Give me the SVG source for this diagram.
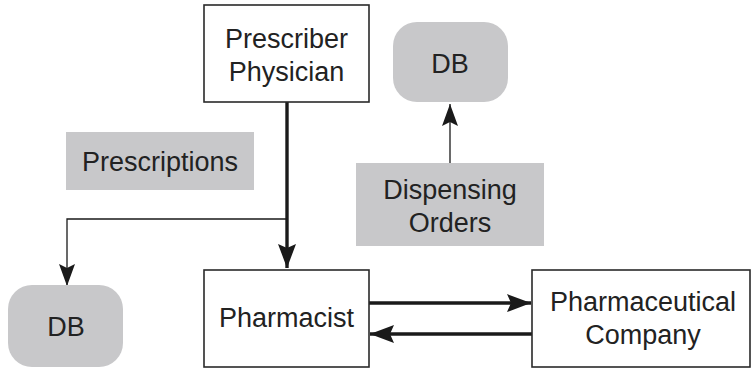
<svg xmlns="http://www.w3.org/2000/svg" width="752" height="368" viewBox="0 0 752 368">
  <style>
    .box { fill: #ffffff; stroke: #2a2a2a; stroke-width: 1.6; }
    .store { fill: #c8c8ca; stroke: none; }
    .label { fill: #c8c8ca; stroke: none; }
    text { font-family: "Liberation Sans", Arial, sans-serif; font-size: 27px; fill: #222222; text-anchor: middle; }
    .thick { fill: none; stroke: #1a1a1a; stroke-width: 3.4; }
    .thin { fill: none; stroke: #1a1a1a; stroke-width: 1.3; }
  </style>
  <defs>
    <marker id="head" markerUnits="userSpaceOnUse" viewBox="0 0 24 18" refX="24" refY="9" markerWidth="24" markerHeight="18" orient="auto">
      <path d="M0,0 L24,9 L0,18 L4,9 z" fill="#1a1a1a"/>
    </marker>
    <marker id="headThin" markerUnits="userSpaceOnUse" viewBox="0 0 22 16" refX="22" refY="8" markerWidth="22" markerHeight="16" orient="auto">
      <path d="M0,0 L22,8 L0,16 L4,8 z" fill="#1a1a1a"/>
    </marker>
  </defs>

  <g id="connectors">
    <path class="thick" d="M287,102 L287,268" marker-end="url(#head)"/>
    <path class="thin" d="M287,219 L67,219 L67,286" marker-end="url(#headThin)"/>
    <path class="thin" d="M450,163 L450,104" marker-end="url(#headThin)"/>
    <path class="thick" d="M369,303 L531,303" marker-end="url(#head)"/>
    <path class="thick" d="M532,334 L370,334" marker-end="url(#head)"/>
  </g>

  <g id="prescriber">
    <rect class="box" x="204" y="5" width="165" height="97"/>
    <text x="286.5" y="48">Prescriber</text>
    <text x="286.5" y="81">Physician</text>
  </g>

  <g id="prescriptions">
    <rect class="label" x="66" y="132" width="188" height="58"/>
    <text x="160" y="171">Prescriptions</text>
  </g>

  <g id="db-dispensing">
    <rect class="store" x="393" y="22" width="115" height="80" rx="24" ry="24"/>
    <text x="450" y="73">DB</text>
  </g>

  <g id="dispensing-orders">
    <rect class="label" x="356" y="163" width="188" height="83"/>
    <text x="450" y="199">Dispensing</text>
    <text x="450" y="232">Orders</text>
  </g>

  <g id="db-prescriptions">
    <rect class="store" x="8" y="285" width="115" height="82" rx="24" ry="24"/>
    <text x="66" y="336">DB</text>
  </g>

  <g id="pharmacist">
    <rect class="box" x="204" y="270" width="165" height="97"/>
    <text x="286.5" y="327">Pharmacist</text>
  </g>

  <g id="pharmaceutical-company">
    <rect class="box" x="532" y="270" width="218" height="97"/>
    <text x="643" y="311">Pharmaceutical</text>
    <text x="643" y="344">Company</text>
  </g>
</svg>
